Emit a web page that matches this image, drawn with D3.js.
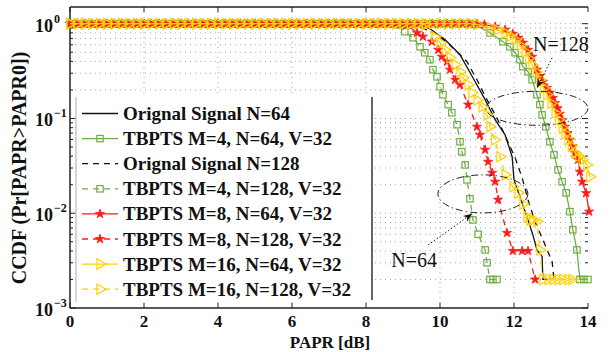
<!DOCTYPE html>
<html><head><meta charset="utf-8">
<script src="https://cdn.jsdelivr.net/npm/d3@7"></script>
<style>
body{margin:0;background:#fff;}
text{font-family:"Liberation Serif","Times New Roman",serif;}
</style></head><body>
<svg id="chart" width="616" height="352"></svg>
<script>
// ---------------- DATA ----------------
const xTicks = [0, 2, 4, 6, 8, 10, 12, 14];
const yMajor = [1e-3, 1e-2, 1e-1, 1];
const yExpLabels = ["\u22123", "\u22122", "\u22121", "0"];
// PAPR sample positions along the flat top (CCDF = 1)
const flatPAPR = [0,0.2,0.4,0.6,0.8,1.0,1.2,1.4,1.6,1.8,2.0,2.2,2.4,2.6,2.8,3.0,3.2,3.4,3.6,3.8,
  4.0,4.2,4.4,4.6,4.8,5.0,5.2,5.4,5.6,5.8,6.0,6.2,6.4,6.6,6.8,7.0,7.2,7.4,7.6,7.8,
  8.0,8.2,8.4,8.6,8.8,9.0,9.2,9.4,9.6,9.8,10.0,10.2,10.4,10.6,10.8,11.0];

const legendNames = [
  "Orignal Signal N=64",
  "TBPTS M=4, N=64, V=32",
  "Orignal Signal N=128",
  "TBPTS M=4, N=128, V=32",
  "TBPTS M=8, N=64, V=32",
  "TBPTS M=8, N=128, V=32",
  "TBPTS M=16, N=64, V=32",
  "TBPTS M=16, N=128, V=32"
];

// Orignal Signal N=64 (black solid)
const orig64X = [0, 9.32, 9.73, 10.14, 10.54, 10.89, 11.22, 11.49, 11.76, 11.95, 12.0, 12.16, 12.35, 12.51, 12.62, 12.76, 12.78, 13.03];
const orig64Y = [1, 1, 0.885, 0.678, 0.471, 0.269, 0.158, 0.097, 0.067, 0.0395, 0.0226, 0.0149, 0.0092, 0.0059, 0.0041, 0.0035, 0.002, 0.002];
// TBPTS M=4, N=64 (green solid, squares)
const m4n64X = [10.95, 11.35, 11.70, 11.89, 12.03, 12.16, 12.24, 12.38, 12.49, 12.62, 12.70, 12.76, 12.86, 12.97, 13.08, 13.19, 13.30, 13.41, 13.51, 13.59, 13.70, 13.78, 13.89, 14.0];
const m4n64Y = [0.98, 0.80, 0.645, 0.571, 0.494, 0.417, 0.352, 0.311, 0.256, 0.178, 0.140, 0.109, 0.0818, 0.0568, 0.0413, 0.0287, 0.0215, 0.0164, 0.0104, 0.0067, 0.0041, 0.002, 0.002, 0.002];
// Orignal Signal N=128 (black dashed)
const orig128X = [0, 9.19, 9.86, 10.19, 10.46, 10.73, 11.0, 11.27, 11.54, 11.81, 12.03, 12.22, 12.38, 12.57, 12.76, 12.92, 13.03, 13.08];
const orig128Y = [1, 1, 0.80, 0.63, 0.506, 0.397, 0.256, 0.158, 0.101, 0.0597, 0.0386, 0.0237, 0.0138, 0.0081, 0.0055, 0.0039, 0.0031, 0.002];
// TBPTS M=4, N=128 (green dashed, squares)
const m4n128X = [8.9, 9.05, 9.27, 9.46, 9.59, 9.73, 9.81, 9.92, 10.0, 10.08, 10.22, 10.32, 10.46, 10.54, 10.59, 10.68, 10.73, 10.81, 10.89, 11.03, 11.22, 11.27, 11.35, 11.43, 11.54];
const m4n128Y = [0.97, 0.823, 0.711, 0.571, 0.494, 0.417, 0.327, 0.275, 0.216, 0.178, 0.140, 0.115, 0.0859, 0.0568, 0.0445, 0.0324, 0.0225, 0.0142, 0.0085, 0.006, 0.0041, 0.003, 0.002, 0.002, 0.002];
// TBPTS M=8, N=64 (red solid, stars)
const m8n64X = [11.2, 11.49, 11.76, 11.97, 12.12, 12.24, 12.38, 12.49, 12.62, 12.70, 12.78, 12.89, 12.97, 13.05, 13.11, 13.18, 13.24, 13.31, 13.38, 13.45, 13.51, 13.58, 13.65, 13.73, 13.78, 13.84, 13.95, 14.03];
const m8n64Y = [0.98, 0.93, 0.864, 0.784, 0.71, 0.630, 0.53, 0.448, 0.327, 0.28, 0.244, 0.21, 0.187, 0.165, 0.146, 0.128, 0.112, 0.096, 0.0818, 0.07, 0.0597, 0.051, 0.0434, 0.0366, 0.0274, 0.0215, 0.0163, 0.0104];
// TBPTS M=8, N=128 (red dashed, stars)
const m8n128X = [9.1, 9.38, 9.54, 9.78, 9.95, 10.05, 10.19, 10.27, 10.41, 10.54, 10.76, 11.0, 11.08, 11.22, 11.30, 11.41, 11.49, 11.57, 11.81, 11.97, 12.22, 12.38, 12.57];
const m8n128Y = [0.97, 0.80, 0.73, 0.645, 0.531, 0.449, 0.397, 0.327, 0.256, 0.227, 0.140, 0.0817, 0.0673, 0.0467, 0.0349, 0.0267, 0.0215, 0.0139, 0.0062, 0.004, 0.004, 0.004, 0.002];
// TBPTS M=16, N=64 (yellow solid, triangles)
const m16n64X = [11.0, 11.35, 11.55, 11.76, 11.9, 12.03, 12.17, 12.30, 12.40, 12.49, 12.60, 12.70, 12.80, 12.89, 13.0, 13.11, 13.20, 13.30, 13.38, 13.46, 13.55, 13.65, 13.75, 13.84, 13.97, 14.05];
const m16n64Y = [0.98, 0.907, 0.86, 0.80, 0.74, 0.678, 0.59, 0.506, 0.43, 0.369, 0.31, 0.256, 0.21, 0.178, 0.145, 0.115, 0.097, 0.080, 0.069, 0.0597, 0.051, 0.0434, 0.04, 0.0366, 0.0324, 0.0242];
// TBPTS M=16, N=128 (yellow dashed, triangles)
const m16n128X = [9.6, 9.86, 10.0, 10.14, 10.27, 10.41, 10.54, 10.62, 10.76, 10.86, 11.0, 11.14, 11.27, 11.35, 11.48, 11.62, 11.76, 11.97, 12.11, 12.24, 12.35, 12.43, 12.51, 12.62, 12.70, 12.78, 12.92, 13.05, 13.19, 13.32, 13.46, 13.57];
const m16n128Y = [0.97, 0.729, 0.630, 0.531, 0.438, 0.369, 0.311, 0.269, 0.227, 0.187, 0.157, 0.133, 0.109, 0.082, 0.0596, 0.0394, 0.0254, 0.019, 0.0164, 0.0125, 0.0092, 0.0085, 0.0085, 0.0082, 0.0041, 0.002, 0.002, 0.002, 0.002, 0.002, 0.002, 0.002];

// annotations (data coordinates)
const annN64 = {label: "N=64", tx: 9.3, ty: 0.0027, ax: 9.68, ay: 0.00463, hx: 10.87, hy: 0.0099, cx: 11.16, cy: 0.016};
const annN128 = {label: "N=128", tx: 13.27, ty: 0.52, ax: 13.03, ay: 0.437, hx: 12.62, hy: 0.21, cx: 12.62, cy: 0.128};

// ---------------- STYLE ----------------
const GREEN = "#6fae45", RED = "#ff1a1a", YEL = "#ffd000", BLK = "#111";
const svg = d3.select("#chart");
const x = d3.scaleLinear().domain([0, 14]).range([70, 588]);
const y = d3.scaleLog().domain([1e-3, 1.5]).range([308, 7]);

function pts(xs, ys, withFlat) {
  let out = [];
  if (withFlat) {
    flatPAPR.filter(v => v < xs[0] - 0.1).forEach(v => out.push({x: v, y: 1}));
  }
  xs.forEach((v, i) => out.push({x: v, y: ys[i]}));
  return out;
}

const series = [
  {name: legendNames[0], data: pts(orig64X, orig64Y, false), color: BLK, dash: null, marker: null},
  {name: legendNames[1], data: pts(m4n64X, m4n64Y, true), color: GREEN, dash: null, marker: "square"},
  {name: legendNames[2], data: pts(orig128X, orig128Y, false), color: BLK, dash: "6,5", marker: null},
  {name: legendNames[3], data: pts(m4n128X, m4n128Y, true), color: GREEN, dash: "6,5", marker: "square"},
  {name: legendNames[4], data: pts(m8n64X, m8n64Y, true), color: RED, dash: null, marker: "star"},
  {name: legendNames[5], data: pts(m8n128X, m8n128Y, true), color: RED, dash: "6,5", marker: "star"},
  {name: legendNames[6], data: pts(m16n64X, m16n64Y, true), color: YEL, dash: null, marker: "tri"},
  {name: legendNames[7], data: pts(m16n128X, m16n128Y, true), color: YEL, dash: "6,5", marker: "tri"}
];

// ---------------- GRID ----------------
const grid = svg.append("g").attr("stroke", "#a8a8a8").attr("stroke-width", 1).attr("stroke-dasharray", "1,4");
const minorVals = [];
[1e-3, 1e-2, 1e-1].forEach(d => { for (let k = 2; k <= 9; k++) minorVals.push(d * k); });
minorVals.concat([1e-2, 1e-1, 1]).forEach(v => {
  grid.append("line").attr("x1", x(0)).attr("x2", x(14)).attr("y1", y(v)).attr("y2", y(v));
});
xTicks.slice(1, -1).forEach(v => {
  grid.append("line").attr("x1", x(v)).attr("x2", x(v)).attr("y1", y(1.5)).attr("y2", y(1e-3));
});

// ---------------- AXES ----------------
const ax = svg.append("g").attr("stroke", "#222").attr("stroke-width", 1.5).attr("fill", "none");
ax.append("line").attr("x1", x(0)).attr("x2", x(0)).attr("y1", y(1.5)).attr("y2", y(1e-3));
ax.append("line").attr("x1", x(0)).attr("x2", x(14)).attr("y1", y(1e-3)).attr("y2", y(1e-3));
ax.append("line").attr("x1", x(0)).attr("x2", x(14)).attr("y1", y(1.5)).attr("y2", y(1.5));
const tk = svg.append("g").attr("stroke", "#222").attr("stroke-width", 1);
xTicks.forEach(v => {
  tk.append("line").attr("x1", x(v)).attr("x2", x(v)).attr("y1", y(1e-3)).attr("y2", y(1e-3) - 5);
  tk.append("line").attr("x1", x(v)).attr("x2", x(v)).attr("y1", y(1.5)).attr("y2", y(1.5) + 5);
});
yMajor.forEach(v => {
  tk.append("line").attr("x1", x(0)).attr("x2", x(0) + 6).attr("y1", y(v)).attr("y2", y(v));
  tk.append("line").attr("x1", x(14)).attr("x2", x(14) - 6).attr("y1", y(v)).attr("y2", y(v));
});
minorVals.forEach(v => {
  tk.append("line").attr("x1", x(0)).attr("x2", x(0) + 3).attr("y1", y(v)).attr("y2", y(v));
  tk.append("line").attr("x1", x(14)).attr("x2", x(14) - 3).attr("y1", y(v)).attr("y2", y(v));
});

// tick labels
svg.append("g").selectAll("text").data(xTicks).join("text")
  .attr("x", d => x(d)).attr("y", 327).attr("text-anchor", "middle")
  .attr("font-size", 17).attr("font-weight", "bold").attr("fill", "#111").text(d => d);
yMajor.forEach((v, i) => {
  svg.append("text").attr("x", 53).attr("y", y(v) + 8).attr("text-anchor", "end")
    .attr("font-size", 18).attr("font-weight", "bold").attr("fill", "#111").text("10");
  svg.append("text").attr("x", 54).attr("y", y(v) - 1).attr("text-anchor", "start")
    .attr("font-size", 12).attr("font-weight", "bold").attr("fill", "#111").text(yExpLabels[i]);
});
svg.append("text").attr("transform", "translate(26,168) rotate(-90)").attr("text-anchor", "middle")
  .attr("font-size", 20).attr("font-weight", "bold").attr("fill", "#111")
  .text("CCDF (Pr[PAPR>PAPR0])");
svg.append("text").attr("x", 330).attr("y", 348).attr("text-anchor", "middle")
  .attr("font-size", 17).attr("font-weight", "bold").attr("fill", "#111").text("PAPR [dB]");

// ---------------- MARKERS ----------------
function drawMarker(g, type, color, px, py) {
  if (type === "square") {
    g.append("rect").attr("x", px - 3.2).attr("y", py - 3.2).attr("width", 6.4).attr("height", 6.4)
      .attr("fill", "none").attr("stroke", color).attr("stroke-width", 1.2);
  } else if (type === "star") {
    g.append("path").attr("d", d3.symbol(d3.symbolStar, 26)())
      .attr("transform", `translate(${px},${py})`).attr("fill", color).attr("stroke", color).attr("stroke-width", 0.8);
  } else if (type === "tri") {
    g.append("path").attr("d", d3.symbol(d3.symbolTriangle, 48)())
      .attr("transform", `translate(${px},${py}) rotate(90)`).attr("fill", "none")
      .attr("stroke", color).attr("stroke-width", 1.2);
  }
}

// ---------------- SERIES ----------------
const line = d3.line().x(d => x(d.x)).y(d => y(d.y));
const plot = svg.append("g");
series.forEach(s => {
  const g = plot.append("g");
  g.append("path").datum(s.data).attr("d", line).attr("fill", "none")
    .attr("stroke", s.color).attr("stroke-width", 1.3)
    .attr("stroke-dasharray", s.dash);
  if (s.marker) s.data.forEach(d => drawMarker(g, s.marker, s.color, x(d.x), y(d.y)));
});

// ---------------- ANNOTATIONS ----------------
const defs = svg.append("defs");
defs.append("marker").attr("id", "ah").attr("viewBox", "0 0 10 10").attr("refX", 10).attr("refY", 5)
  .attr("markerWidth", 9).attr("markerHeight", 9).attr("orient", "auto-start-reverse")
  .attr("markerUnits", "userSpaceOnUse")
  .append("path").attr("d", "M0,1 L10,5 L0,9 L3,5 Z").attr("fill", "#111");
[[annN64, 45, 19], [annN128, 51, 17]].forEach(([a, rx, ry]) => {
  svg.append("ellipse").attr("cx", x(a.cx)).attr("cy", y(a.cy)).attr("rx", rx).attr("ry", ry)
    .attr("fill", "none").attr("stroke", "#222").attr("stroke-width", 1)
    .attr("stroke-dasharray", "7,3,1.5,3");
  svg.append("line").attr("x1", x(a.ax)).attr("y1", y(a.ay)).attr("x2", x(a.hx)).attr("y2", y(a.hy))
    .attr("stroke", "#222").attr("stroke-width", 1).attr("stroke-dasharray", "1.5,2")
    .attr("marker-end", "url(#ah)");
  svg.append("text").attr("x", x(a.tx)).attr("y", y(a.ty)).attr("text-anchor", "middle")
    .attr("font-size", 20).attr("fill", "#111").text(a.label);
});

// ---------------- LEGEND ----------------
const lg = svg.append("g");
lg.append("rect").attr("x", 76).attr("y", 97).attr("width", 296).attr("height", 205).attr("fill", "#fff");
lg.append("line").attr("x1", 76).attr("x2", 76).attr("y1", 97).attr("y2", 302).attr("stroke", "#c8c8c8").attr("stroke-width", 1.5);
lg.append("line").attr("x1", 372).attr("x2", 372).attr("y1", 97).attr("y2", 300).attr("stroke", "#333").attr("stroke-width", 1.5);
series.forEach((s, i) => {
  const cy = 113.5 + i * 25.1;
  lg.append("line").attr("x1", 82).attr("x2", 118).attr("y1", cy).attr("y2", cy)
    .attr("stroke", s.color).attr("stroke-width", 1.3).attr("stroke-dasharray", s.dash);
  if (s.marker) drawMarker(lg, s.marker, s.color, 100, cy);
  lg.append("text").attr("x", 123).attr("y", cy + 6.5).attr("font-size", 19).attr("font-weight", "bold")
    .attr("fill", "#111").text(s.name);
});
</script>
</body></html>
